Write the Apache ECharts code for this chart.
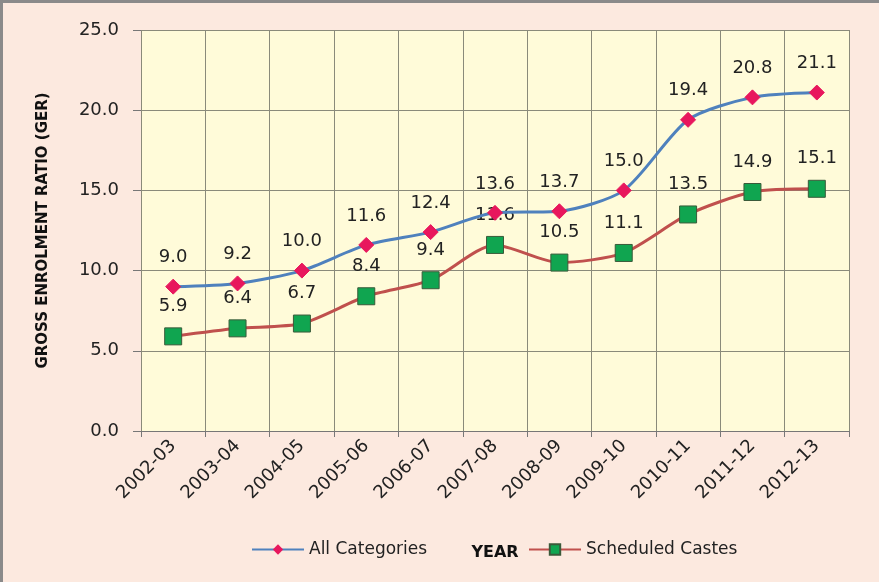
<!DOCTYPE html>
<html>
<head>
<meta charset="utf-8">
<script src="https://cdn.jsdelivr.net/npm/echarts@6/dist/echarts.min.js"></script>
<style>
  html, body { margin: 0; padding: 0; background: #fff; }
  #chart {
    width: 879px;
    height: 582px;
    box-sizing: border-box;
    background: #fce9df;
    border-left: 3px solid #8a8a8a;
    border-top: 3px solid #8a8a8a;
  }
</style>
</head>
<body>
<div id="chart"></div>
<script>
// 年度
const years = ['2002-03', '2003-04', '2004-05', '2005-06', '2006-07', '2007-08',
  '2008-09', '2009-10', '2010-11', '2011-12', '2012-13']
// 全部类别 GER
const allCategories = [9.0, 9.2, 10.0, 11.6, 12.4, 13.6, 13.7, 15.0, 19.4, 20.8, 21.1]
// 表列种姓 GER
const scheduledCastes = [5.9, 6.4, 6.7, 8.4, 9.4, 11.6, 10.5, 11.1, 13.5, 14.9, 15.1]

const chart = echarts.init(document.getElementById('chart'))

const labelStyle = {
  show: true,
  position: 'top',
  distance: 12,
  fontSize: 18,
  color: '#222',
  formatter: p => p.value.toFixed(1)
}

const option = {
  backgroundColor: 'transparent',
  textStyle: { fontFamily: 'DejaVu Sans' },
  grid: { left: 138, right: 30, top: 27, bottom: 151, backgroundColor: '#fffbd9', show: true, borderWidth: 0 },
  legend: [
    {
      data: ['All Categories'],
      left: 248, top: 538,
      padding: 0,
      itemWidth: 52, itemHeight: 13,
      textStyle: { fontSize: 17, color: '#222' }
    },
    {
      data: ['Scheduled Castes'],
      left: 525, top: 538,
      padding: 0,
      itemWidth: 52, itemHeight: 13,
      textStyle: { fontSize: 17, color: '#222' }
    }
  ],
  xAxis: {
    type: 'category',
    data: years,
    boundaryGap: true,
    name: 'YEAR',
    nameLocation: 'middle',
    nameGap: 114,
    nameTextStyle: { fontSize: 16, fontWeight: 'bold', color: '#111' },
    axisLine: { lineStyle: { color: '#777' } },
    axisTick: { show: true, length: 6, lineStyle: { color: '#777' } },
    axisLabel: { rotate: 45, fontSize: 18, color: '#222', margin: 12 },
    splitLine: { show: true, lineStyle: { color: '#8a8a7a', width: 1 } }
  },
  yAxis: {
    type: 'value',
    min: 0, max: 25, interval: 5,
    name: 'GROSS ENROLMENT RATIO (GER)',
    nameLocation: 'middle',
    nameGap: 90,
    nameTextStyle: { fontSize: 15, fontWeight: 'bold', color: '#111' },
    axisLine: { show: false },
    axisTick: { show: true, length: 8, lineStyle: { color: '#777' } },
    axisLabel: { fontSize: 18, color: '#222', margin: 22, formatter: v => v.toFixed(1) },
    splitLine: { lineStyle: { color: '#8a8a7a', width: 1 } }
  },
  series: [
    {
      name: 'All Categories',
      type: 'line',
      data: allCategories,
      smooth: 0.25,
      symbol: 'diamond',
      symbolSize: 15,
      lineStyle: { color: '#4f81bd', width: 3 },
      itemStyle: { color: '#e8175d', borderColor: '#e8175d' },
      label: labelStyle,
      z: 3
    },
    {
      name: 'Scheduled Castes',
      type: 'line',
      data: scheduledCastes,
      smooth: 0.25,
      symbol: 'rect',
      symbolSize: 17,
      lineStyle: { color: '#c0504d', width: 3 },
      itemStyle: { color: '#10a550', borderColor: '#3a5a3a', borderWidth: 1 },
      label: labelStyle,
      z: 2
    }
  ]
}

chart.setOption(option)
</script>
</body>
</html>
